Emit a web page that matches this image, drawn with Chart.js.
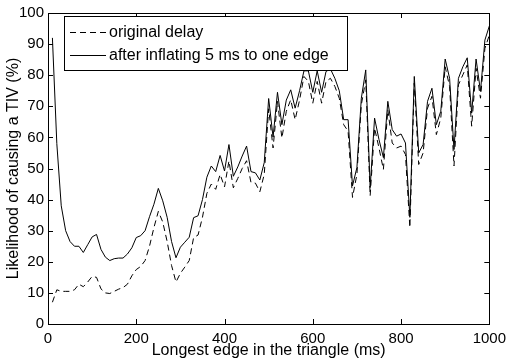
<!DOCTYPE html>
<html><head><meta charset="utf-8">
<script src="https://cdn.jsdelivr.net/npm/chart.js@4"></script>
<style>html,body{margin:0;padding:0;background:#fff}#w{width:512px;height:360px}</style>
</head><body><div id="w"><canvas id="c" width="512" height="360"></canvas></div>
<script>
const edgeMs = [10,20,30,40,50,60,70,80,90,100,110,120,130,140,150,160,170,180,190,200,
210,220,230,240,250,260,270,280,290,300,310,320,330,340,350,360,370,380,390,400,
410,420,430,440,450,460,470,480,490,500,510,520,530,540,550,560,570,580,590,600,
610,620,630,640,650,660,670,680,690,700,710,720,730,740,750,760,770,780,790,800,
810,820,830,840,850,860,870,880,890,900,910,920,930,940,950,960,970,980,990,1000];

const originalDelay = [7,11,10.5,10.5,10.5,11,12.8,12,13.5,15.3,
15,11.3,10,9.8,10.5,11.2,11.7,12.8,15.5,17.5,
18.5,20.4,25,31,36.2,32.8,26.5,18.8,13.5,16.3,
18.3,20.4,27.8,28.6,34.3,42,45,43.3,48.1,44.1,
52.4,43.8,46.8,50,52.5,45.5,45.3,42.5,48.1,69.2,
56.6,71.6,59.8,68.4,72.1,65.7,72,79.6,78,71,
78,71,78,79,76.4,72.6,64.1,62,40.7,48.1,
70.5,78.5,41.2,63,56.6,49.7,68.9,58.2,56.6,57.2,
54.5,31,77.5,51.3,55,69.4,73.2,60.9,66.2,82.7,
76.4,50.8,76.9,80.1,83.3,63.6,82.2,72.6,88.6,92.9];

const afterInflating = [92,58,38,30,26.5,25,25,23,25.5,28,
28.8,24,21.5,20.4,21,21.2,21.2,22.5,24.5,27.8,
28.4,30,34.5,38.5,43.6,39.6,34.3,26.5,21.3,24.7,
26.3,27.9,34.2,34.8,40,47.2,50.8,49,54.2,49.2,
57.7,47.5,50.5,54,57.2,49,48.6,46.3,51.9,72.5,
60.1,74.5,64.1,72,75.3,69.4,75,81.4,81.4,74.5,
81.4,74.5,81.2,82,79,75,65.7,65.7,44.4,50.3,
72.6,81.7,43.9,66.2,59.3,53.5,71.6,62.5,60.4,61.1,
58.2,34.3,79.6,55,57.7,71.6,75.8,64.1,68.4,85.2,
79,56.1,79,82.7,85.6,67.8,85.2,74.8,91.3,95.8];

const xTickValues = [0,200,400,600,800,1000];
const yTickValues = [0,10,20,30,40,50,60,70,80,90,100];
const seriesLabels = ['original delay','after inflating 5 ms to one edge'];
const xTitle = 'Longest edge in the triangle (ms)';
const yTitle = 'Likelihood of causing a TIV (%)';

const FONT = '"Liberation Sans", Arial, Helvetica, sans-serif';

const toPoints = arr => edgeMs.map((x,i)=>({x:x,y:arr[i]}));

const framePlugin = {
  id:'frame',
  afterDraw(chart){
    const {ctx, chartArea, scales} = chart;
    const {left,right,top,bottom} = chartArea;
    const xs = scales.x, ys = scales.y;
    ctx.save();
    ctx.strokeStyle = '#000';
    ctx.lineWidth = 1;
    ctx.setLineDash([]);
    ctx.beginPath();
    xTickValues.forEach(v=>{
      const px = Math.round(xs.getPixelForValue(v)) + 0.5;
      ctx.moveTo(px,bottom); ctx.lineTo(px,bottom-5);
      ctx.moveTo(px,top); ctx.lineTo(px,top+5);
    });
    yTickValues.forEach(v=>{
      const py = Math.round(ys.getPixelForValue(v)) + 0.5;
      ctx.moveTo(left,py); ctx.lineTo(left+5,py);
      ctx.moveTo(right,py); ctx.lineTo(right-5,py);
    });
    ctx.stroke();
    ctx.strokeRect(Math.round(left)+0.5, Math.round(top)+0.5, Math.round(right-left), Math.round(bottom-top));

    // legend box
    const lx = 64.5, ly = 16.5, lw = 283, lh = 54;
    ctx.fillStyle = '#fff';
    ctx.fillRect(lx, ly, lw, lh);
    ctx.strokeRect(lx, ly, lw, lh);
    const rows = [32, 55];
    const dashes = [[6,4], []];
    chart.data.datasets.forEach((ds,i)=>{
      ctx.beginPath();
      ctx.setLineDash(dashes[i]);
      ctx.moveTo(70, rows[i]+0.5); ctx.lineTo(106, rows[i]+0.5);
      ctx.stroke();
      ctx.setLineDash([]);
      ctx.fillStyle = '#000';
      ctx.font = '16px ' + FONT;
      ctx.textBaseline = 'middle';
      ctx.textAlign = 'left';
      ctx.fillText(ds.label, 109, rows[i]+1);
    });
    ctx.restore();
  }
};

new Chart(document.getElementById('c'), {
  type:'line',
  data:{
    datasets:[
      {label:seriesLabels[0], data:toPoints(originalDelay), borderColor:'#000', borderWidth:1, borderDash:[6,4], pointRadius:0, tension:0, fill:false},
      {label:seriesLabels[1], data:toPoints(afterInflating), borderColor:'#000', borderWidth:1, pointRadius:0, tension:0, fill:false}
    ]
  },
  options:{
    responsive:false,
    animation:false,
    devicePixelRatio:1,
    layout:{padding:{left:0, right:18, top:11, bottom:0}},
    plugins:{legend:{display:false}, tooltip:{enabled:false}},
    scales:{
      x:{
        type:'linear', min:0, max:1000,
        afterBuildTicks(s){ s.ticks = xTickValues.map(v=>({value:v})); },
        afterFit(s){ s.height = 36; },
        grid:{display:false, drawTicks:false},
        border:{display:false},
        ticks:{color:'#000', font:{family:FONT, size:15}, padding:6, maxRotation:0, autoSkip:false, callback:v=>String(v)},
        title:{display:true, text:xTitle, color:'#000', font:{family:FONT, size:16}, padding:{top:-2, bottom:0}}
      },
      y:{
        type:'linear', min:0, max:100,
        afterBuildTicks(s){ s.ticks = yTickValues.map(v=>({value:v})); },
        afterFit(s){ s.width = 48; },
        grid:{display:false, drawTicks:false},
        border:{display:false},
        ticks:{color:'#000', font:{family:FONT, size:15}, padding:4, autoSkip:false, callback:v=>String(v)},
        title:{display:true, text:yTitle, color:'#000', font:{family:FONT, size:16}, padding:{top:4, bottom:0}}
      }
    }
  },
  plugins:[framePlugin]
});
</script>
</body></html>
